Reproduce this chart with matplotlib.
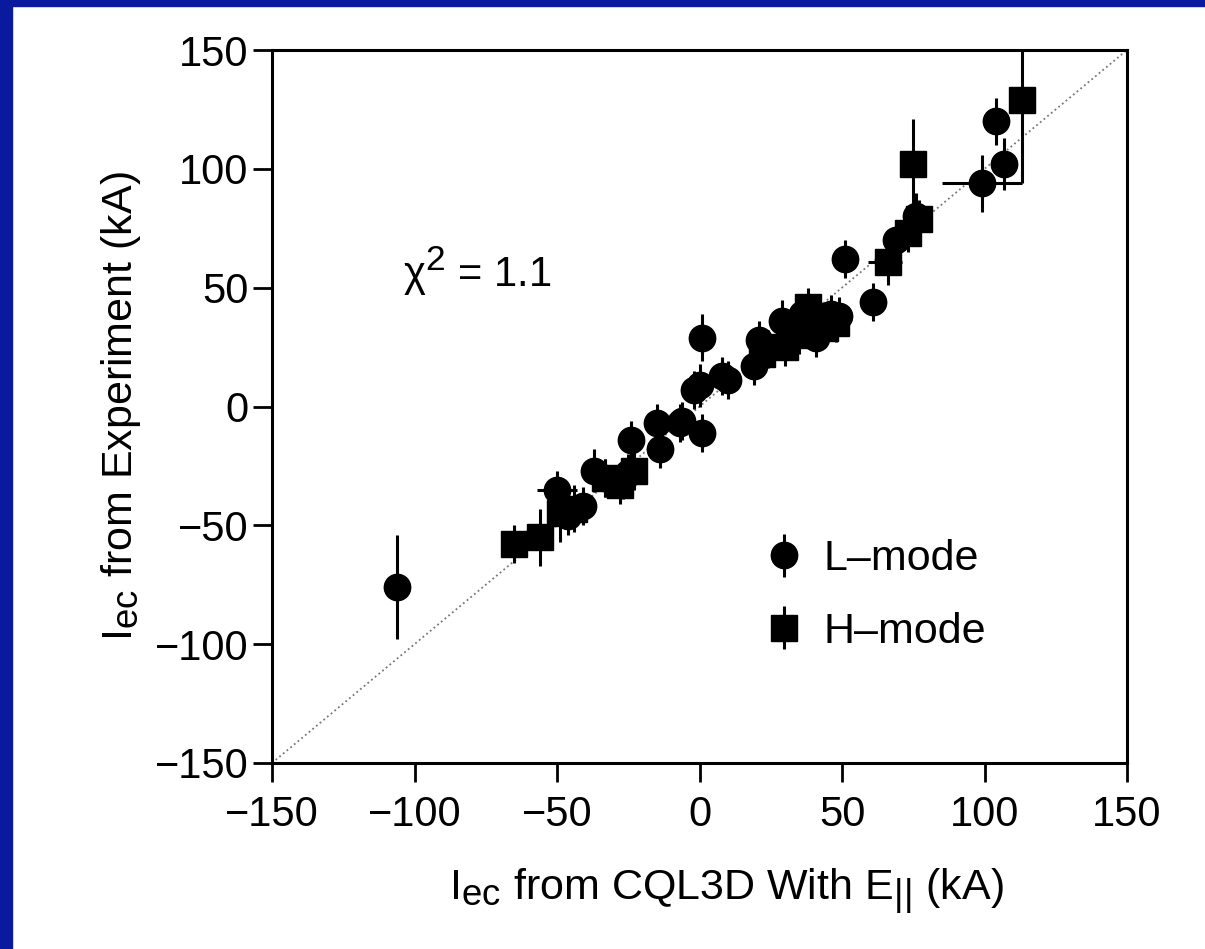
import matplotlib
matplotlib.use("Agg")
import matplotlib.pyplot as plt
from matplotlib.patches import Rectangle

# bigger sub/superscripts, like the original figure
try:
    import matplotlib._mathtext as _mt
    _mt.SHRINK_FACTOR = 0.85
except Exception:
    pass

plt.rcParams['font.family'] = ['Liberation Sans', 'DejaVu Sans']
plt.rcParams['mathtext.fontset'] = 'custom'
plt.rcParams['mathtext.rm'] = 'Liberation Sans'
plt.rcParams['mathtext.it'] = 'Liberation Sans:italic'

# L-mode shots (circles)
l_x = [-106, -50, -46, -41, -37, -33, -27, -25, -24, -15, -14, -7, -6, -2, 1, 0, 1, 8, 10,
       19, 21, 24, 29, 33, 36, 41, 43, 46, 49, 51, 61, 69, 76, 99, 104, 107]
l_y = [-76, -35, -46, -42, -27, -30, -31, -28, -14, -7, -18, -7, -6, 7, 29, 9, -11, 13, 11,
       17, 28, 24, 36, 32, 39, 29, 35, 39, 38, 62, 44, 70, 80, 94, 120, 102]
l_yerr = [22, 8, 8, 8, 9, 8, 8, 8, 8, 8, 8, 8, 8, 8, 10, 9, 8, 8, 8,
          8, 8, 8, 9, 8, 8, 8, 8, 8, 8, 8, 8, 8, 10, 12, 10, 11]

# points that also carry a horizontal error bar
lx_x = [-50, 99]
lx_y = [-35, 94]
lx_err = [7, 14]

# H-mode shots (squares)
h_x = [-65, -56, -49, -44, -33, -28, -23, 22, 30, 33, 35, 38, 40, 44, 48, 66, 73, 75, 77, 113]
h_y = [-58, -55, -45, -43, -30, -33, -27, 22, 25, 35, 30, 42, 38, 33, 35, 61, 73, 102, 79, 129]
h_yerr = [8, 12, 12, 10, 8, 8, 8, 8, 8, 8, 8, 8, 8, 8, 8, 10, 8, 19, 8, 35]

hx_x = [65]
hx_y = [61]
hx_err = [6]

fig = plt.figure(figsize=(12.05, 9.49), dpi=100)
fig.patch.set_facecolor('white')
# slide border
fig.add_artist(Rectangle((0, 1 - 6 / 949), 1, 6 / 949, transform=fig.transFigure, color='#0A1A9E', zorder=10))
fig.add_artist(Rectangle((0, 0), 12 / 1205, 1, transform=fig.transFigure, color='#0A1A9E', zorder=10))

ax = fig.add_axes([272 / 1205, 1 - 763 / 949, 855 / 1205, 713 / 949])

ax.plot([-150, 150], [-150, 150], ':', color='#777777', lw=1.3, zorder=1)

ms = 19
lw = 2.2
ax.errorbar(lx_x, lx_y, xerr=lx_err, fmt='none', ecolor='black', elinewidth=lw, capsize=0, zorder=2)
ax.errorbar(hx_x, hx_y, xerr=hx_err, fmt='none', ecolor='black', elinewidth=lw, capsize=0, zorder=2)
l_mode = ax.errorbar(l_x, l_y, yerr=l_yerr, fmt='o', color='black', ms=ms, elinewidth=lw,
                     capsize=0, label='L\u2013mode', zorder=3)
h_mode = ax.errorbar(h_x, h_y, yerr=h_yerr, fmt='s', color='black', ms=ms * 0.95, elinewidth=lw,
                     capsize=0, label='H\u2013mode', zorder=3)

ax.set_xlim(-150, 150)
ax.set_ylim(-150, 150)
ticks = [-150, -100, -50, 0, 50, 100, 150]
tick_labels = ['\u2212150', '\u2212100', '\u221250', '0', '50', '100', '150']
ax.set_xticks(ticks)
ax.set_xticklabels(tick_labels)
ax.set_yticks(ticks)
ax.set_yticklabels(tick_labels)
ax.tick_params(axis='both', direction='out', length=14, width=2, labelsize=30)
ax.tick_params(axis='x', pad=9)
ax.tick_params(axis='y', pad=3)
for s in ax.spines.values():
    s.set_linewidth(2.2)

ax.set_xlabel(r'I$_{\rm ec}$ from CQL3D With E$_{\rm ||}$ (kA)', fontsize=31)
ax.set_ylabel(r'I$_{\rm ec}$ from Experiment (kA)', fontsize=31)
ax.xaxis.set_label_coords(0.532, -0.145)
ax.yaxis.set_label_coords(-0.151, 0.5)

ax.text(-104, 57, '\u03c7$^{\\rm 2}$ = 1.1', fontsize=30, va='center', ha='left')

ax.legend(handles=[l_mode, h_mode], loc='center left', bbox_to_anchor=(0.559, 0.235),
          frameon=False, fontsize=31, handlelength=0.8, handletextpad=0.5,
          labelspacing=0.75, borderaxespad=0, borderpad=0.4)

fig.savefig('out.png', dpi=100)
